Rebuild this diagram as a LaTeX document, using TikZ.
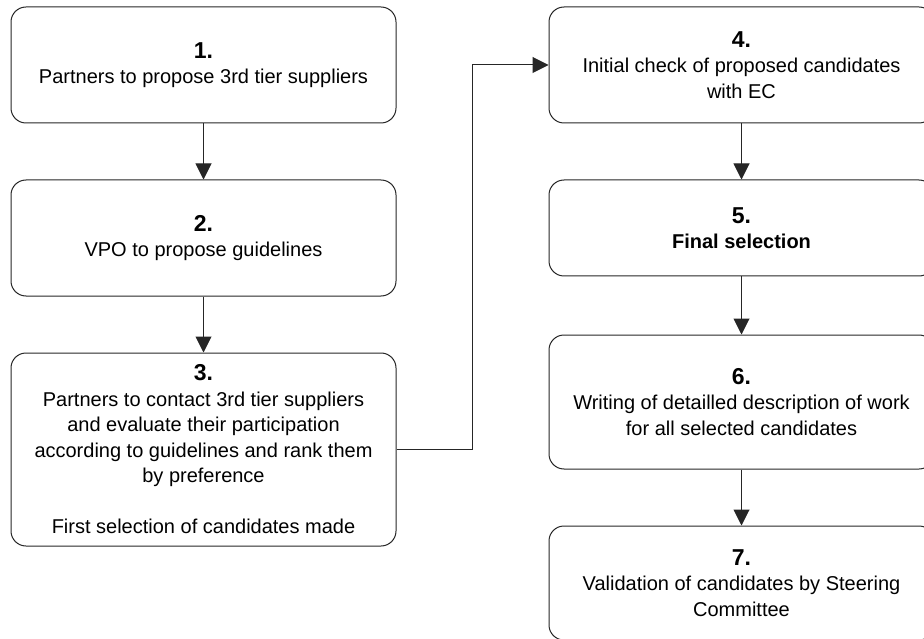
\documentclass[tikz,border=0pt]{standalone}
\usepackage{fontspec}
\setmainfont{Liberation Sans}
\usetikzlibrary{arrows.meta}
\newcommand{\stagenum}[1]{{\fontsize{23pt}{25.5pt}\selectfont\bfseries #1}}
\tikzset{
	stage/.style={draw=black!85, line width=1pt, rounded corners=15pt, align=center, minimum width=385pt, font=\fontsize{20pt}{25.5pt}\selectfont},
	flow/.style={draw=black!85, line width=1pt, -{Triangle[length=16pt, width=16pt]}}
}

\begin{document}
\begin{tikzpicture}[x=1pt, y=-1pt]
		%%%%% START %%%%%
		
		\clip (0, 0) rectangle (924, 639);
		
		\node[stage, minimum height=116pt] (s1) at (203.5, 65) {\stagenum{1.}\\Partners to propose 3rd tier suppliers};
		\node[stage, minimum height=116pt] (s2) at (203.5, 238) {\stagenum{2.}\\VPO to propose guidelines};
		\node[stage, minimum height=193pt] (s3) at (203.5, 449.5) {\stagenum{3.}\\Partners to contact 3rd tier suppliers\\and evaluate their participation\\according to guidelines and rank them\\by preference\\[25.5pt]First selection of candidates made};
		
		\node[stage, minimum height=116pt] (s4) at (741.5, 65) {\stagenum{4.}\\Initial check of proposed candidates\\with EC};
		\node[stage, minimum height=96pt] (s5) at (741.5, 228) {\stagenum{5.}\\\textbf{Final selection}};
		\node[stage, minimum height=134pt] (s6) at (741.5, 402) {\stagenum{6.}\\Writing of detailled description of work\\for all selected candidates};
		\node[stage, minimum height=114pt] (s7) at (741.5, 583) {\stagenum{7.}\\Validation of candidates by Steering\\Committee};
		
		\coordinate (elbow) at (472, 449.5);
		
		\draw[flow] (s1) -- (s2);
		\draw[flow] (s2) -- (s3);
		\draw[flow] (s3.east) -- (elbow) |- (s4.west);
		\draw[flow] (s4) -- (s5);
		\draw[flow] (s5) -- (s6);
		\draw[flow] (s6) -- (s7);
		
		%%%%% END %%%%%
	\end{tikzpicture}
\end{document}
